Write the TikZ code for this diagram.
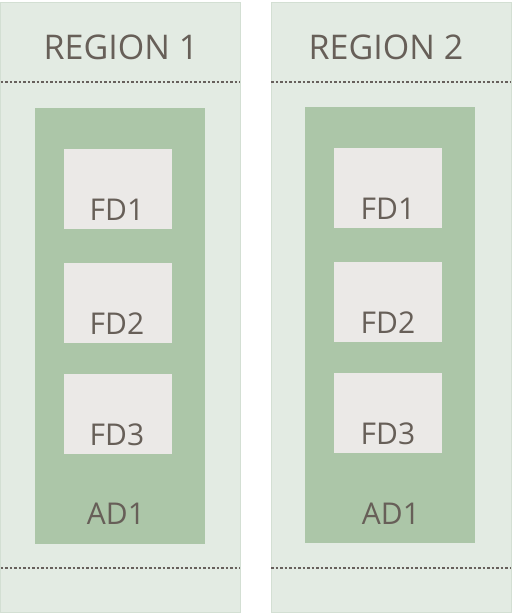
\documentclass[tikz,border=0pt]{standalone}
\usepackage{fontspec}
\setmainfont{Open Sans}
\definecolor{regbg}{HTML}{E3EBE3}
\definecolor{regline}{HTML}{D3DFD3}
\definecolor{adbg}{HTML}{ACC6A8}
\definecolor{fdbg}{HTML}{EBE9E7}
\definecolor{txt}{HTML}{675F58}
\definecolor{dots}{HTML}{67605C}
\begin{document}
\begin{tikzpicture}[x=1pt,y=1pt,
  region/.style={fill=regbg,draw=regline,line width=0.8pt},
  adbox/.style={fill=adbg,draw=none},
  fdbox/.style={fill=fdbg,draw=none},
  title/.style={text=txt,font=\fontsize{34}{36}\selectfont,inner sep=0pt,anchor=base},
  lbl/.style={text=txt,font=\fontsize{30}{32}\selectfont,inner sep=0pt,anchor=base},
  sep/.style={draw=dots,line width=2.5pt,dash pattern=on 2.5pt off 2pt}]
\useasboundingbox (0,0) rectangle (512,614);
% Region 1
\draw[region] (0.5,2) rectangle (240,612);
\coordinate (r1l1) at (0.5,532); \coordinate (r1r1) at (240,532);
\coordinate (r1l2) at (0.5,46); \coordinate (r1r2) at (240,46);
\draw[sep] (r1l1) -- (r1r1);
\draw[sep] (r1l2) -- (r1r2);
\node[title] (t1) at (121,554) {REGION 1};
\fill[adbox] (35,70) rectangle (205,506);
\node[lbl] (ad1) at (116,89) {AD1};
\fill[fdbox] (64,385) rectangle (172,465);
\node[lbl] (fd11) at (117,393) {FD1};
\fill[fdbox] (64,271) rectangle (172,351);
\node[lbl] (fd12) at (117,279) {FD2};
\fill[fdbox] (64,160) rectangle (172,240);
\node[lbl] (fd13) at (117,168) {FD3};
% Region 2
\draw[region] (271,2) rectangle (511,612);
\coordinate (r2l1) at (271,532); \coordinate (r2r1) at (511,532);
\coordinate (r2l2) at (271,46); \coordinate (r2r2) at (511,46);
\draw[sep] (r2l1) -- (r2r1);
\draw[sep] (r2l2) -- (r2r2);
\node[title] (t2) at (386,554) {REGION 2};
\fill[adbox] (305,71) rectangle (475,507);
\node[lbl] (ad2) at (391,89) {AD1};
\fill[fdbox] (334,386) rectangle (442,466);
\node[lbl] (fd21) at (388,394) {FD1};
\fill[fdbox] (334,272) rectangle (442,352);
\node[lbl] (fd22) at (388,280) {FD2};
\fill[fdbox] (334,161) rectangle (442,241);
\node[lbl] (fd23) at (388,169) {FD3};
\end{tikzpicture}
\end{document}
